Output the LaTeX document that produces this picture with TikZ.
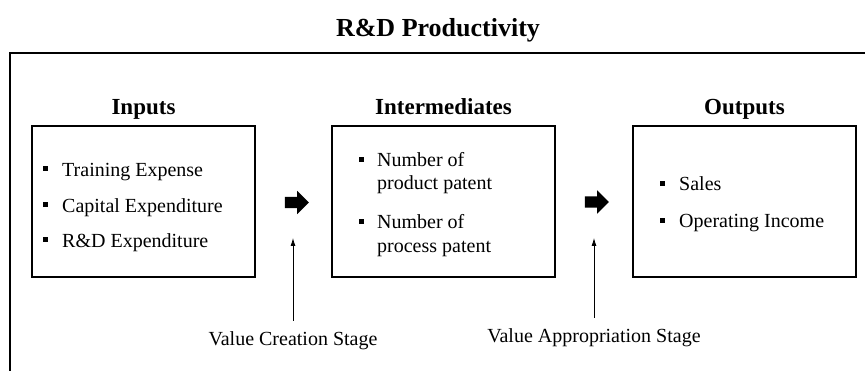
\documentclass[tikz,border=0pt]{standalone}
\usepackage{fontspec}
\setmainfont{Liberation Serif}
\usetikzlibrary{shapes.arrows,arrows.meta}

\tikzset{
  stagebox/.style={draw, line width=1.5pt, minimum width=223pt, minimum height=151pt, inner sep=0pt},
  stagetitle/.style={font=\fontsize{23}{27}\selectfont\bfseries, anchor=base, inner sep=0pt},
  itemtext/.style={font=\fontsize{20}{24}\selectfont, anchor=base west, inner sep=0pt},
  bulletsq/.style={fill, minimum size=5pt, inner sep=0pt},
  fatarrow/.style={single arrow, fill, draw=none, minimum height=24pt, inner xsep=0pt, inner ysep=5.5pt, single arrow head extend=6pt},
  stagelabel/.style={font=\fontsize{20}{24}\selectfont, anchor=base, inner xsep=2pt, inner ysep=10pt},
  thinarrow/.style={line width=0.8pt, -{Latex[length=8pt,width=5pt]}}
}

\begin{document}
\begin{tikzpicture}[x=1pt,y=-1pt]
    \useasboundingbox (0,0) rectangle (865,371);

    % outer frame (cut off at right and bottom)
    \draw[line width=1.2pt] (10,380) |- (880,53);
    \node[font=\fontsize{26}{30}\selectfont\bfseries, anchor=base] (mainTitle) at (438,37) {R\&D Productivity};

    % the three stages
    \node[stagebox] (inBox) at (143.5,201.5) {};
    \node[stagebox] (midBox) at (443.5,201.5) {};
    \node[stagebox] (outBox) at (744.5,201.5) {};

    \node[stagetitle] (inTitle) at ([yshift=11pt]inBox.north) {Inputs};
    \node[stagetitle] (midTitle) at ([yshift=11pt]midBox.north) {Intermediates};
    \node[stagetitle] (outTitle) at ([yshift=11pt]outBox.north) {Outputs};

    % inputs
    \node[bulletsq] (inB1) at (45,169) {};
    \node[itemtext] (inT1) at (62,177) {Training Expense};
    \node[bulletsq] (inB2) at (45,205) {};
    \node[itemtext] (inT2) at (62,213) {Capital Expenditure};
    \node[bulletsq] (inB3) at (45,240) {};
    \node[itemtext] (inT3) at (62,248) {R\&D Expenditure};

    % intermediates
    \node[bulletsq] (midB1) at (361,160) {};
    \node[itemtext] (midT1) at (377,167) {Number of};
    \node[itemtext] (midT2) at (377,190) {product patent};
    \node[bulletsq] (midB2) at (361,222) {};
    \node[itemtext] (midT3) at (377,229) {Number of};
    \node[itemtext] (midT4) at (377,253) {process patent};

    % outputs
    \node[bulletsq] (outB1) at (662,183.5) {};
    \node[itemtext] (outT1) at (679,191) {Sales};
    \node[bulletsq] (outB2) at (662,220.5) {};
    \node[itemtext] (outT2) at (679,228) {Operating Income};

    % block arrows between stages
    \node[fatarrow] (arrA) at (294,202.5) {};
    \node[fatarrow] (arrB) at (594,202) {};

    % stage labels
    \coordinate (tipA) at (293,238);
    \coordinate (tipB) at (594,238);
    \node[stagelabel] (lblA) at (293,345) {Value Creation Stage};
    \node[stagelabel] (lblB) at (594,342) {Value Appropriation Stage};
    \draw[thinarrow] (lblA.north) -- (tipA);
    \draw[thinarrow] (lblB.north) -- (tipB);
\end{tikzpicture}
\end{document}
